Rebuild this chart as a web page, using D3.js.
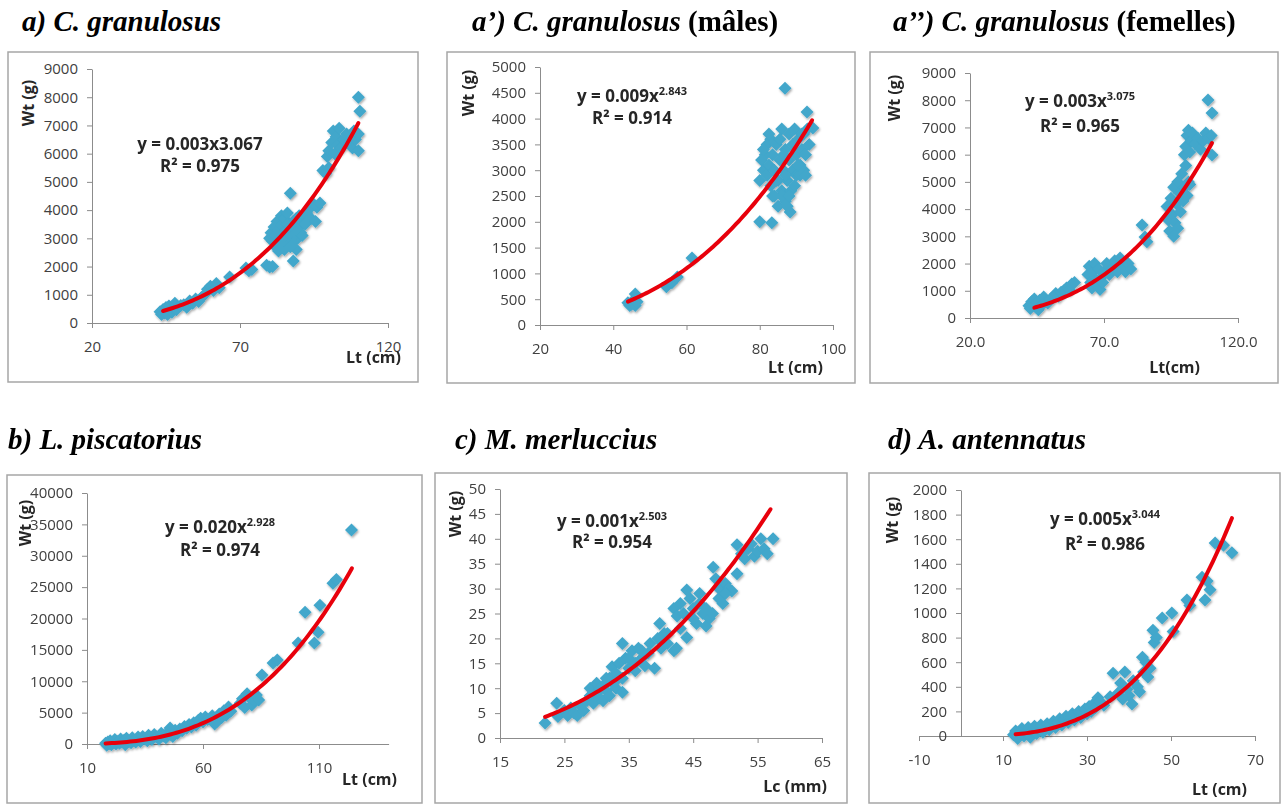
<!DOCTYPE html>
<html>
<head>
<meta charset="utf-8">
<script src="https://cdn.jsdelivr.net/npm/d3@7"></script>
<style>
  body { margin: 0; background: #fff; }
  svg { display: block; }
  .tick text { font-family: "Open Sans", sans-serif; font-size: 15px; fill: #404040; }
  .domain, .tick line { stroke: #8c8c8c; }
</style>
</head>
<body>
<svg id="chart" width="1285" height="805"></svg>
<script>
// data: [length, weight]
const ptsAll = [[43,400],[43.5,300],[44,480],[44.5,350],[45,550],[45,420],[45.5,300],[46,600],[46.5,450],[47,380],[47.5,520],[48,700],[48.5,470],[49,560],[50,620],
  [51,650],[52,560],[53,780],[54,700],[55,850],[56,760],[57,900],[58,1000],[59,1200],[60,1300],[61,1150],[62,1400],[63,1250],
  [66.5,1630],[72,1950],[73,1850],[74,1900],[79,2050],[80,1980],[81,2000],[87,4600],[88,2200],
  [80,3000],[80.5,3200],[81,2900],[81.5,3400],[82,3100],[82,2700],[82.5,3600],[83,3300],[83.5,2900],[84,3500],[84,3800],[84.5,3100],[85,2600],[85,3700],
  [85.5,3300],[86,3000],[86,3900],[86.5,2800],[87,3400],[87.5,3100],[88,3600],[88,2900],[88.5,3300],[89,3700],[89.5,3000],[90,3400],[90.5,3200],[91,3600],
  [91.5,3800],[92,3500],[92.5,3900],[90,3800],[89,2600],[83,2550],[84,2800],[86,3500],[87,2700],[89,3200],[91,3100],
  [93,4000],[94,3700],[95,4200],[96,4100],[97,4250],[95.5,3600],[98,5400],[99,5300],[100,5500],[99.5,5900],
  [100,6100],[101,6400],[101.5,6800],[102,6000],[102.5,6600],[103,6300],[103.5,6900],[104,6200],[105,6500],[106,6700],[107,6400],[108,6200],[108.5,6800],
  [109,6500],[110,6700],[110,6100],[110,8000],[110.5,7500]];

const ptsMales = [[44,430],[44.5,380],[45,400],[45.5,480],[46,600],[46,380],[46.5,450],[54.5,740],[56,820],[57.5,930],[61.5,1300],
  [80,2000],[83.3,1980],[88.3,2190],[86.9,4590],[92.9,4130],[94.5,3820],
  [80,2800],[80.5,3200],[81,3000],[81.5,3300],[82,2900],[82,3500],[82.5,3100],[83,3600],[83,2700],[83.5,3300],[84,2500],[84,3000],[84.5,3500],
  [85,2300],[85,2800],[85.5,3200],[86,3800],[86,2600],[86.5,3000],[87,3400],[87,2400],[87.5,2800],[88,3700],[88,3200],[88.5,2600],[89,3000],
  [89,3500],[89.5,3800],[90,2900],[90,3300],[90.5,3600],[91,3100],[91,2900],[91.5,3400],[92,3700],[92,3000],[92.5,3300],[93,3800],[86,2500],[87.5,2300],
  [81,3400],[82.5,3700],[83.5,2500],[84.5,2800],[85.5,3600],[86.5,3300],[87,2900],[88,2500],[89.5,2700],[90.5,3100],[91.5,3700],[92.5,2900],[93.5,3500]];

const ptsFemales = [[42,450],[42.5,350],[43,600],[43.5,500],[44,700],[44.5,400],[45,550],[45.5,300],[46,650],[47,500],[47.5,770],[48,600],[49,550],[50,700],
  [51,750],[52,900],[53,800],[54,950],[55,1000],[56,1100],[57,1050],[58,1250],[59,1300],
  [64,1600],[64.5,1900],[65,1300],[65.5,1100],[66,1700],[66.5,2000],[67,1400],[67.5,1200],[68,1800],[68.5,1050],[69,1500],[69.5,1300],[70,1700],
  [71,2000],[72,1600],[73,1800],[74,2100],[75,1700],[76,2200],[77,1900],[78,1700],[79,2000],[80,1800],[84.2,3420],[85.3,2980],[86,2800],
  [93.5,4100],[94,3600],[94.5,3200],[95,4400],[95.5,3800],[96,3000],[96,4800],[96.5,3500],[97,4200],[97.5,3300],[97.5,5000],[98,4600],[98.5,3900],
  [99,5300],[99.5,4300],[100,4800],[100.5,5600],[101,4500],[101.5,5000],[102,4900],
  [100,6000],[100.5,6300],[101,6700],[101.5,6900],[102,6100],[102.5,6500],[103,6800],[104,6400],[105,6600],[106,6200],[107,6500],[108,6800],
  [109,6600],[110,6700],[110.3,5990],[108.8,8010],[110.3,7530]];

const ptsLophius = [[18,100],[18.5,-200],[19,300],[19.5,50],[20,500],[20.5,-100],[21,200],[22,700],[22.5,0],[23,400],[24,100],[24.5,800],[25,300],
  [26,600],[26.5,-100],[27,900],[28,400],[29,200],[29.5,1000],[30,600],[31,300],[32,1100],[32.5,700],[33,400],[34,1200],[35,800],[36,500],
  [36.5,1400],[37,1000],[38,700],[39,1500],[40,1100],[41,800],[42,1700],[43,1300],[44,1000],[45,1900],[45.8,2550],[46,1500],[47,1200],[48,2200],[49,1700],
  [50,2400],[51,2100],[52,2800],[53,2500],[54,3100],[55,2700],[56,3400],[57,3000],[58,3800],[59,4100],[60,3500],[61,4300],[62,3900],
  [64,4500],[65,3200],[66,3600],[67,4800],[68,4200],[69,5300],[70,4600],[71,5900],[72,5200],
  [76,6500],[77,7200],[78,5800],[79,8000],[80,7400],[81,6200],[82,6800],[83,7800],[84,7000],[85.4,11000],
  [90.2,12900],[92,13400],[101,16100],[104,21000],[108,16100],[110.4,22100],[109.6,17800],[116,25600],[117.5,26200],[124,34100]];

const ptsMerluccius = [[22,3],[23.8,7],[24,4.3],[25,5.5],[25.5,4.5],[26,6],[26.5,5],[27,4.5],[27.5,6.5],[28,5.5],[28.5,7.5],
  [29,8.5],[29,10],[29.5,7],[30,9],[30,11],[30.5,8],[31,10.5],[31,7.5],[31.5,9.5],[32,12],[32,8.5],[32.4,14.3],[32.5,11],[33,13],[33,10],
  [33.5,15],[34,19],[34,9.2],[34,12],[34.5,16],[35,14],[35.5,17.5],[36,15],[36,13.5],[36.5,18],[37,16],[37.5,14.5],[38,17],[38.3,19],[39,14],
  [39.5,20],[39.8,23],[40,18],[40.5,21],[41,19],[42,17.5],[42.4,18],[42,26],[42.5,24.5],[43,27],[43.5,25],[44,29.7],[44,20.2],[44.5,28],
  [45,26],[45.5,23],[46,27],[46.5,25],[47,22.5],[47.5,24],[48,25],[48.1,34.3],[48.5,32],[49,30],[49.6,27],[50,31],[50.5,30],[51,29.5],
  [51.8,33],[51.8,38.8],[52.5,37],[53,36],[53.5,38],[54,39],[54.5,36.5],[55,37.5],[55.5,40],[56,38],[56.5,37],[57.4,40],
  [30.5,10],[31.5,12],[33,11.5],[35,16],[37,17.5],[41,21],[43,22],[45,24],[46,29],[47,26],[49,28],[50,29]];

const ptsAntennatus = [[12.5,10],[13,40],[13.5,-20],[14,20],[14.5,60],[15,0],[15.5,30],[16,70],[16.5,-10],[17,40],[17.5,80],[18,20],[18.5,50],
  [19,90],[19.5,30],[20,70],[20.5,100],[21,50],[21.5,90],[22,120],[22.5,70],[23,110],[23.5,140],[24,90],[24.5,130],[25,160],[25.5,110],
  [26,150],[26.5,180],[27,130],[27.5,170],[28,200],[28.5,150],[29,190],[29.5,220],[30,180],[30.5,240],[31,200],[31.5,260],[32,230],
  [32.6,310],[33,280],[34,250],[35.5,320],[36.2,510],[37.4,350],[38,430],[38.5,300],[39,520],[39.5,380],[40,330],[40.7,260],[41,450],
  [42,400],[42.5,360],[43.2,640],[43.5,520],[44,600],[44.5,480],[45,550],[45.7,860],[46,760],[46.5,800],[47.9,960],[50.2,1000],[50.5,850],
  [53.8,1105],[54.5,1060],[57.4,1290],[58.6,1260],[58.1,1105],[59.3,1190],[60.5,1570],[62.5,1550],[64.5,1490]];

// power fits: [a, b, xFrom, xTo]
const fitAll = [0.003885, 3.067, 44, 110];
const fitMales = [0.00966, 2.843, 44, 94.3];
const fitFemales = [0.003366, 3.075, 44, 110.3];
const fitLophius = [0.02069, 2.928, 18, 124.2];
const fitMerluccius = [0.00185, 2.503, 22, 57];
const fitAntennatus = [0.005494, 3.044, 13, 64.5];

// axis ticks
const xTicksAll = [20, 70, 120];
const xTicksMales = [20, 40, 60, 80, 100];
const xTicksLophius = [10, 60, 110];
const xTicksMerluccius = [15, 25, 35, 45, 55, 65];
const xTicksAntennatus = [-10, 10, 30, 50, 70];
const yTicks9000 = [0, 1000, 2000, 3000, 4000, 5000, 6000, 7000, 8000, 9000];
const yTicks5000 = [0, 500, 1000, 1500, 2000, 2500, 3000, 3500, 4000, 4500, 5000];
const yTicks40000 = [0, 5000, 10000, 15000, 20000, 25000, 30000, 35000, 40000];
const yTicks50 = [0, 5, 10, 15, 20, 25, 30, 35, 40, 45, 50];
const yTicks2000 = [0, 200, 400, 600, 800, 1000, 1200, 1400, 1600, 1800, 2000];

const plain = d => String(d);
const oneDec = d => d.toFixed(1);

const panels = [
  { title: ["a) C. granulosus", ""], tx: 22, ty: 31,
    pts: ptsAll, fit: fitAll, eq: ["y = 0.003x3.067", ""], r2: "0.975",
    box: [8, 52, 410, 330], px: [92, 388], py: [323, 69], xd: [20, 120], yd: [0, 9000],
    xt: xTicksAll, yt: yTicks9000, xf: plain,
    eqx: 200, eqy: 150, r2y: 172, yl: [28, 103], ylab: "Wt (g)", xl: [401, 363], xlab: "Lt (cm)" },
  { title: ["a’) C. granulosus", " (mâles)"], tx: 472, ty: 31,
    pts: ptsMales, fit: fitMales, eq: ["y = 0.009x", "2.843"], r2: "0.914",
    box: [447, 52, 408, 331], px: [540, 833], py: [325, 67], xd: [20, 100], yd: [0, 5000],
    xt: xTicksMales, yt: yTicks5000, xf: plain,
    eqx: 632, eqy: 102, r2y: 124, yl: [468, 93], ylab: "Wt (g)", xl: [823, 373], xlab: "Lt (cm)" },
  { title: ["a’’) C. granulosus", " (femelles)"], tx: 893, ty: 31,
    pts: ptsFemales, fit: fitFemales, eq: ["y = 0.003x", "3.075"], r2: "0.965",
    box: [870, 52, 408, 331], px: [970, 1238], py: [318, 73], xd: [20, 120], yd: [0, 9000],
    xt: xTicksAll, yt: yTicks9000, xf: oneDec,
    eqx: 1080, eqy: 107, r2y: 132, yl: [894, 98], ylab: "Wt (g)", xl: [1200, 373], xlab: "Lt(cm)" },
  { title: ["b) L. piscatorius", ""], tx: 8, ty: 449,
    pts: ptsLophius, fit: fitLophius, eq: ["y = 0.020x", "2.928"], r2: "0.974",
    box: [7, 475, 415, 328], px: [87, 388.6], py: [744, 493], xd: [10, 140], yd: [0, 40000],
    xt: xTicksLophius, yt: yTicks40000, xf: plain,
    eqx: 220, eqy: 533, r2y: 556, yl: [25, 523], ylab: "Wt (g)", xl: [397, 785], xlab: "Lt (cm)" },
  { title: ["c) M. merluccius", ""], tx: 455, ty: 449,
    pts: ptsMerluccius, fit: fitMerluccius, eq: ["y = 0.001x", "2.503"], r2: "0.954",
    box: [435, 473, 412, 330], px: [500, 822], py: [738, 489], xd: [15, 65], yd: [0, 50],
    xt: xTicksMerluccius, yt: yTicks50, xf: plain,
    eqx: 612, eqy: 527, r2y: 548, yl: [455, 514], ylab: "Wt (g)", xl: [827, 792], xlab: "Lc (mm)" },
  { title: ["d) A. antennatus", ""], tx: 888, ty: 449,
    pts: ptsAntennatus, fit: fitAntennatus, eq: ["y = 0.005x", "3.044"], r2: "0.986",
    box: [869, 473, 411, 330], px: [919, 1255], py: [736, 490], xd: [-10, 70], yd: [0, 2000],
    xt: xTicksAntennatus, yt: yTicks2000, xf: plain,
    eqx: 1105, eqy: 525, r2y: 550, yl: [892, 520], ylab: "Wt (g)", xl: [1247, 795], xlab: "Lt (cm)" }
];

const svg = d3.select("#chart");

// soft shadow like the excel markers
const filter = svg.append("defs").append("filter")
  .attr("id", "soft").attr("x", "-50%").attr("y", "-50%").attr("width", "200%").attr("height", "200%");
filter.append("feDropShadow")
  .attr("dx", 1).attr("dy", 1.5).attr("stdDeviation", 1.3)
  .attr("flood-color", "#000").attr("flood-opacity", 0.35);

const diamond = "M0,-6.5L6.5,0L0,6.5L-6.5,0Z";

function boldText(x, y, size) {
  return svg.append("text")
    .attr("x", x).attr("y", y)
    .style("font-family", "'Open Sans', sans-serif")
    .style("font-weight", "bold")
    .style("font-size", size + "px")
    .style("fill", "#262626");
}

panels.forEach(p => {
  // title, bold italic, with a non italic part
  const t = svg.append("text")
    .attr("x", p.tx).attr("y", p.ty)
    .style("font-family", "'Liberation Serif', 'Times New Roman', serif")
    .style("font-weight", "bold")
    .style("font-size", "29px");
  t.append("tspan").style("font-style", "italic").text(p.title[0]);
  if (p.title[1]) t.append("tspan").text(p.title[1]);

  svg.append("rect")
    .attr("x", p.box[0]).attr("y", p.box[1])
    .attr("width", p.box[2]).attr("height", p.box[3])
    .attr("fill", "#fff").attr("stroke", "#a6a6a6").attr("stroke-width", 1.5);

  const x = d3.scaleLinear().domain(p.xd).range(p.px);
  const y = d3.scaleLinear().domain(p.yd).range(p.py);
  const x0 = Math.max(p.xd[0], 0);

  svg.append("g")
    .attr("transform", `translate(0,${y(0)})`)
    .call(d3.axisBottom(x).tickValues(p.xt).tickFormat(p.xf).tickSize(5).tickPadding(13).tickSizeOuter(0));

  svg.append("g")
    .attr("transform", `translate(${x(x0)},0)`)
    .call(d3.axisLeft(y).tickValues(p.yt).tickFormat(plain).tickSize(5).tickPadding(9).tickSizeOuter(0));

  // points
  svg.append("g").attr("filter", "url(#soft)")
    .selectAll("path")
    .data(p.pts)
    .enter().append("path")
    .attr("d", diamond)
    .attr("transform", d => `translate(${x(d[0])},${y(d[1])})`)
    .attr("fill", "#42a7cb");

  // power trend line
  const [a, b, xa, xb] = p.fit;
  const line = d3.line().x(d => x(d)).y(d => y(a * Math.pow(d, b)));
  svg.append("path")
    .datum(d3.range(xa, xb, (xb - xa) / 80).concat([xb]))
    .attr("d", line)
    .attr("fill", "none")
    .attr("stroke", "#e8000b")
    .attr("stroke-width", 4)
    .attr("stroke-linecap", "round");

  // equation and r squared
  const eq = boldText(p.eqx, p.eqy, 17).attr("text-anchor", "middle");
  eq.append("tspan").text(p.eq[0]);
  if (p.eq[1]) eq.append("tspan").attr("dy", -7).style("font-size", "11px").text(p.eq[1]);

  boldText(p.eqx, p.r2y, 17).attr("text-anchor", "middle").text("R² = " + p.r2);

  // axis titles
  boldText(0, 0, 16)
    .attr("transform", `translate(${p.yl[0]},${p.yl[1]}) rotate(-90)`)
    .attr("text-anchor", "middle")
    .attr("dy", "0.35em")
    .text(p.ylab);

  boldText(p.xl[0], p.xl[1], 16).attr("text-anchor", "end").text(p.xlab);
});
</script>
</body>
</html>
